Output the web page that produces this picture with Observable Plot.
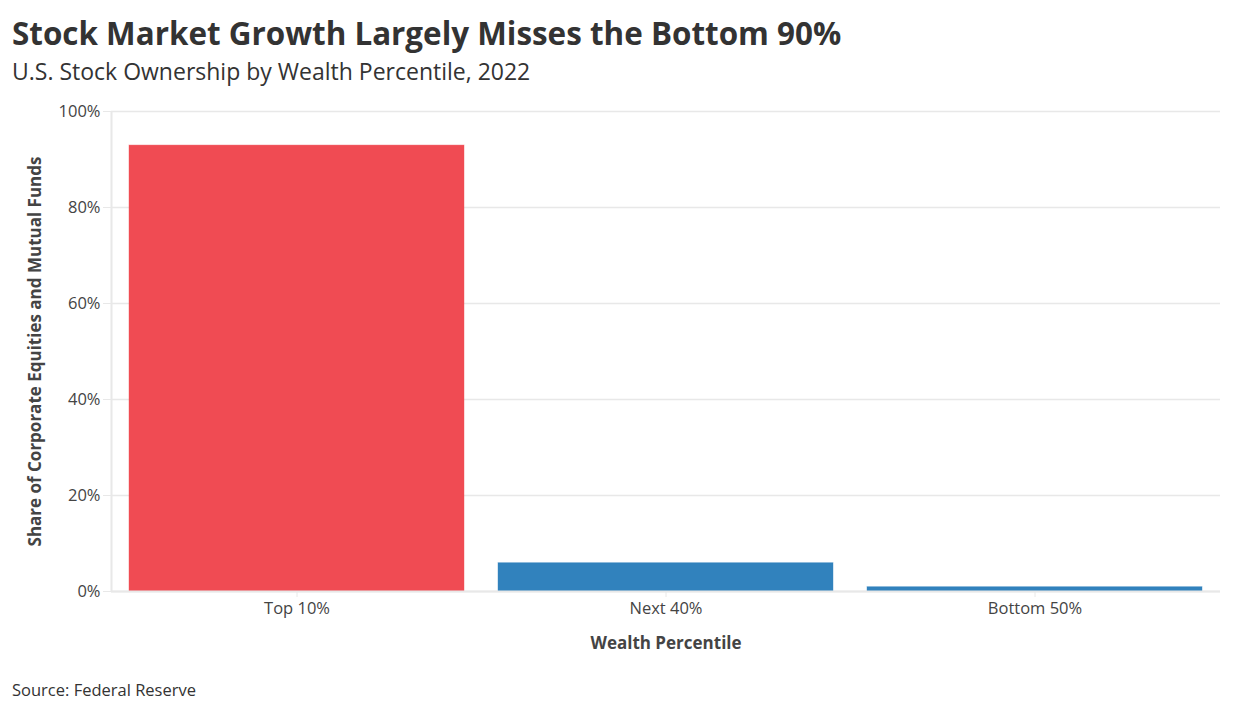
<!DOCTYPE html>
<html>
<head>
<meta charset="utf-8">
<script src="https://cdn.jsdelivr.net/npm/d3@7"></script>
<script src="https://cdn.jsdelivr.net/npm/@observablehq/plot@0.6"></script>
<style>
  html, body { margin: 0; padding: 0; background: #fff; }
  body { width: 1236px; height: 713px; overflow: hidden; font-family: "Open Sans", "Noto Sans", sans-serif; color: #333; }
  #title { position: absolute; left: 12px; top: 11px; font-size: 31.4px; font-weight: 700; color: #333; white-space: nowrap; }
  #subtitle { position: absolute; left: 12px; top: 55px; font-size: 23px; font-weight: 400; color: #333; white-space: nowrap; }
  #chart { position: absolute; left: 0; top: 95px; }
  #source { position: absolute; left: 12px; top: 678px; font-size: 16.5px; color: #333; white-space: nowrap; }
</style>
</head>
<body>
<div id="title">Stock Market Growth Largely Misses the Bottom 90%</div>
<div id="subtitle">U.S. Stock Ownership by Wealth Percentile, 2022</div>
<div id="chart"></div>
<div id="source">Source: Federal Reserve</div>
<script>
const categories = ["Top 10%", "Next 40%", "Bottom 50%"];
const shares = [92.9, 5.9, 0.9];
const barColors = ["#f04b53", "#3182bd", "#3182bd"];
const yTicks = [0, 20, 40, 60, 80, 100];

const data = categories.map((c, i) => ({category: c, share: shares[i], color: barColors[i]}));

const gridColor = "#e8e8e8";
const font = "'Open Sans', 'Noto Sans', sans-serif";

const leftLine = (index, scales, values, dims) => {
  const g = d3.create("svg:line")
    .attr("x1", dims.marginLeft + 0.5).attr("x2", dims.marginLeft + 0.5)
    .attr("y1", dims.marginTop).attr("y2", dims.height - dims.marginBottom)
    .attr("stroke", gridColor).attr("stroke-width", 2);
  return g.node();
};

const chart = Plot.plot({
  width: 1236,
  height: 580,
  marginLeft: 111,
  marginRight: 16,
  marginTop: 16,
  marginBottom: 84,
  style: {fontFamily: font, fontSize: "16.5px", color: "#444", background: "#fff"},
  x: {domain: categories, paddingInner: 0.092, paddingOuter: 0.046},
  y: {domain: [0, 100]},
  marks: [
    Plot.gridY(yTicks, {stroke: gridColor, strokeOpacity: 1, strokeWidth: 1.5}),
    Plot.axisY(yTicks, {
      tickFormat: d => d + "%", tickSize: 8, tickPadding: 3, stroke: gridColor, strokeOpacity: 1,
      label: "Share of Corporate Equities and Mutual Funds", labelAnchor: "center", labelArrow: "none", labelOffset: 83,
      fill: "#444", fontSize: 16.5
    }),
    Plot.axisX({
      tickSize: 6, tickPadding: 5, stroke: gridColor, strokeOpacity: 1,
      label: "Wealth Percentile", labelAnchor: "center", labelArrow: "none", labelOffset: 57,
      fill: "#444", fontSize: 16.5
    }),
    Plot.barY(data, {x: "category", y: "share", fill: "color", stroke: "color", strokeOpacity: 0.4, strokeWidth: 1}),
    Plot.ruleY([0], {stroke: gridColor, strokeWidth: 2}),
    leftLine
  ]
});

d3.select(chart).selectAll("[aria-label='y-axis label'] text, [aria-label='x-axis label'] text")
  .style("font-weight", "700").style("font-size", "17px").attr("fill", "#444");

document.getElementById("chart").appendChild(chart);
</script>
</body>
</html>
